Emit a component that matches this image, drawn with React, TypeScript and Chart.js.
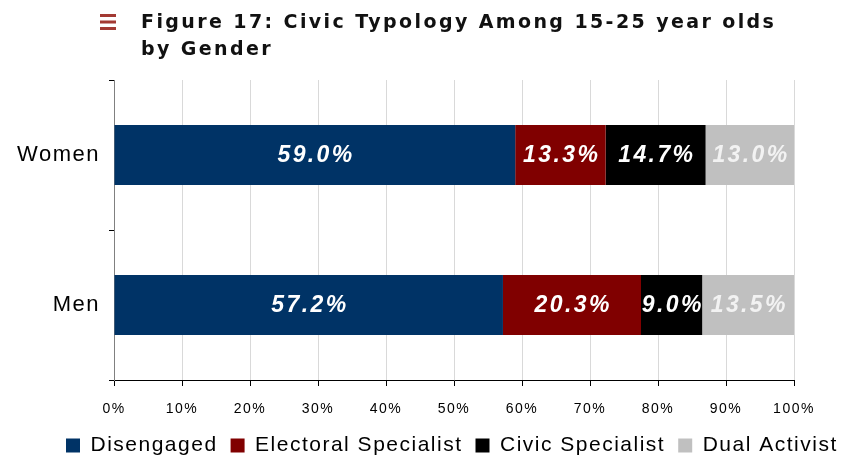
import React, { useEffect, useRef } from 'react';
import { Chart, registerables } from 'chart.js';

Chart.register(...registerables);

const categories = ['Women', 'Men'];
const seriesNames = ['Disengaged', 'Electoral Specialist', 'Civic Specialist', 'Dual Activist'];
const disengaged = [59.0, 57.2];
const electoralSpecialist = [13.3, 20.3];
const civicSpecialist = [14.7, 9.0];
const dualActivist = [13.0, 13.5];
const seriesColors = ['#003366', '#800000', '#000000', '#c0c0c0'];
const labelColors = ['#ffffff', '#ffffff', '#ffffff', '#f2f2f2'];
const titleLines = ['Figure 17: Civic Typology Among 15-25 year olds', 'by Gender'];

const FONT = '"Liberation Sans", Arial, sans-serif';
const TITLE_FONT = '"DejaVu Sans", Verdana, sans-serif';

const spacingPlugin = {
  id: 'spacing',
  beforeUpdate(chart: any) { (chart.ctx as any).letterSpacing = '1.5px'; },
  beforeLayout(chart: any) { (chart.ctx as any).letterSpacing = '1.5px'; },
  afterLayout(chart: any) {
    // let the category labels extend past the axis box without being clipped
    if (chart.scales.y) chart.scales.y.left = 0;
  },
  beforeDraw(chart: any) { (chart.ctx as any).letterSpacing = '1.5px'; },
};

const titlePlugin = {
  id: 'customTitle',
  afterDraw(chart: any) {
    const ctx = chart.ctx;
    ctx.save();
    ctx.fillStyle = '#a33a33';
    [14, 20.5, 27].forEach((y) => ctx.fillRect(100, y, 16, 3));
    ctx.fillStyle = '#111111';
    ctx.font = `bold 19px ${TITLE_FONT}`;
    (ctx as any).letterSpacing = '2.4px';
    ctx.textAlign = 'left';
    ctx.textBaseline = 'alphabetic';
    ctx.fillText(titleLines[0], 141, 28);
    ctx.fillText(titleLines[1], 141, 55);
    ctx.restore();
  },
};

const valueLabelPlugin = {
  id: 'valueLabels',
  afterDatasetsDraw(chart: any) {
    const ctx = chart.ctx;
    ctx.save();
    ctx.font = `italic bold 23px ${FONT}`;
    (ctx as any).letterSpacing = '2.4px';
    ctx.textAlign = 'center';
    ctx.textBaseline = 'middle';
    chart.data.datasets.forEach((ds: any, di: number) => {
      const meta = chart.getDatasetMeta(di);
      meta.data.forEach((el: any, i: number) => {
        const c = el.getCenterPoint();
        ctx.fillStyle = labelColors[di];
        ctx.fillText(Number(ds.data[i]).toFixed(1) + '%', c.x + 1.2, c.y + 1);
      });
    });
    ctx.restore();
  },
};

export default function App() {
  const ref = useRef<HTMLCanvasElement | null>(null);
  useEffect(() => {
    if (!ref.current) return;
    Chart.defaults.font.family = FONT;
    const values = [disengaged, electoralSpecialist, civicSpecialist, dualActivist];
    const chart = new Chart(ref.current, {
      type: 'bar',
      data: {
        labels: categories,
        datasets: seriesNames.map((name, i) => ({
          label: name,
          data: values[i],
          backgroundColor: seriesColors[i],
          borderWidth: 0,
          barPercentage: 0.4,
          categoryPercentage: 1.0,
        })),
      },
      options: {
        indexAxis: 'y',
        responsive: true,
        maintainAspectRatio: false,
        animation: false,
        layout: { padding: { top: 80, left: 53, right: -30, bottom: -10 } },
        scales: {
          x: {
            stacked: true,
            min: 0,
            max: 100,
            ticks: {
              stepSize: 10,
              callback: (v: any) => v + '%',
              color: '#000',
              font: { family: FONT, size: 14 },
              padding: 15,
            },
            grid: { color: '#d9d9d9', tickColor: '#000', tickLength: 6 },
            border: { color: '#000', width: 1 },
            afterFit: (s: any) => {
              s.height = 42;
              s.paddingLeft = 10;
              s.paddingRight = 47;
            },
          },
          y: {
            stacked: true,
            ticks: { color: '#000', font: { family: FONT, size: 22 }, padding: 9 },
            grid: { drawOnChartArea: false, tickColor: '#000', tickLength: 5, offset: true },
            border: { color: '#808080', width: 1 },
            afterFit: (s: any) => {
              s.width = 61;
            },
          },
        },
        plugins: {
          legend: {
            position: 'bottom',
            align: 'start',
            labels: {
              boxWidth: 14,
              boxHeight: 14,
              padding: 13,
              color: '#000',
              font: { family: FONT, size: 21 },
            },
          },
          tooltip: { enabled: false },
          title: { display: false },
        },
      } as any,
      plugins: [spacingPlugin, titlePlugin, valueLabelPlugin],
    });
    return () => chart.destroy();
  }, []);
  return (
    <div style={{ position: 'absolute', left: 0, top: 0, width: 841, height: 456, background: '#fff' }}>
      <canvas ref={ref} />
    </div>
  );
}
